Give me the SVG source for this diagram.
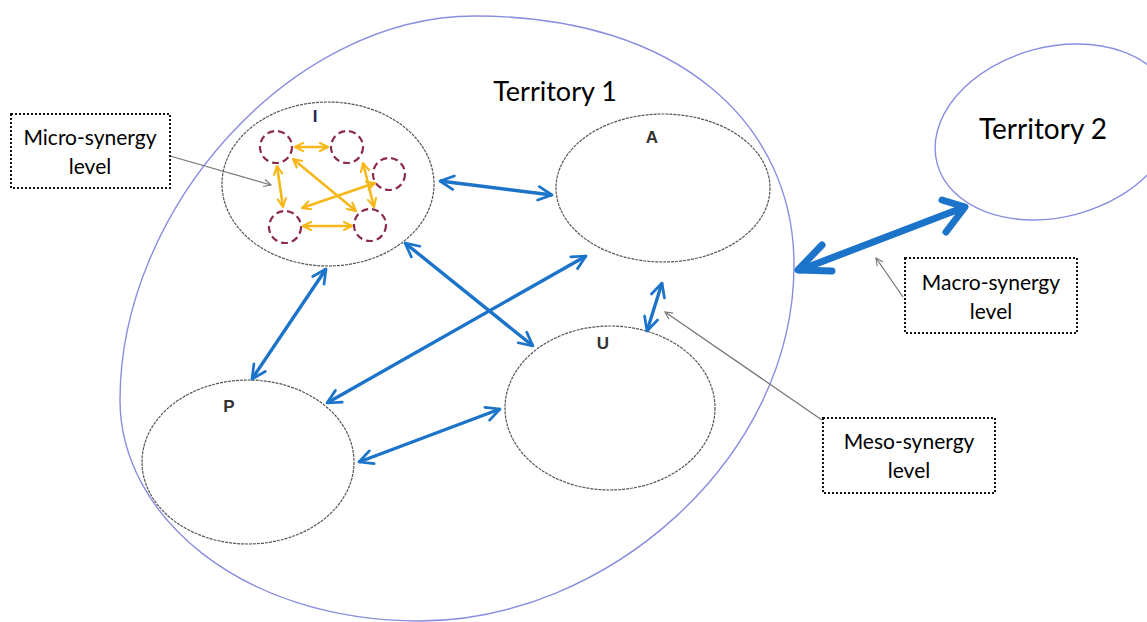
<svg xmlns="http://www.w3.org/2000/svg" width="1147" height="622" viewBox="0 0 1147 622">
<defs>
<style>
.terr{fill:none;stroke:#8a8ee0;stroke-width:1.4}
.node{fill:none;stroke:#555;stroke-width:1.2;stroke-dasharray:3 1}
.small{fill:none;stroke:#8c2a4e;stroke-width:2.2;stroke-dasharray:7 4}
.blue{stroke:#1b74c9;stroke-width:3.4;fill:none;marker-start:url(#bs);marker-end:url(#be)}
.thick{stroke:#1b74c9;stroke-width:7;fill:none;stroke-linecap:round}
.yel{stroke:#f7b719;stroke-width:2.6;fill:none;marker-start:url(#ys);marker-end:url(#ye)}
.ptr{stroke:#777;stroke-width:1.3;fill:none;marker-end:url(#pe)}
.box{fill:#fff;stroke:#111;stroke-width:2;stroke-dasharray:2 2}
.lab{font-family:Lato,"Open Sans",sans-serif;font-size:21px;fill:#000;text-anchor:middle}
.title{font-family:Lato,"Open Sans",sans-serif;font-size:27px;fill:#000;text-anchor:middle}
.nl{font-family:"Liberation Sans",Arial,sans-serif;font-size:17px;font-weight:bold;fill:#333;text-anchor:middle}
</style>
<marker id="be" viewBox="0 0 10 10" refX="9" refY="5" markerWidth="5" markerHeight="5" orient="auto" markerUnits="strokeWidth"><path d="M1,1 L9,5 L1,9" fill="none" stroke="#1b74c9" stroke-width="1.6" stroke-linecap="round" stroke-linejoin="round"/></marker>
<marker id="bs" viewBox="0 0 10 10" refX="1" refY="5" markerWidth="5" markerHeight="5" orient="auto" markerUnits="strokeWidth"><path d="M9,1 L1,5 L9,9" fill="none" stroke="#1b74c9" stroke-width="1.6" stroke-linecap="round" stroke-linejoin="round"/></marker>
<marker id="ye" viewBox="0 0 10 10" refX="9" refY="5" markerWidth="4" markerHeight="4" orient="auto" markerUnits="strokeWidth"><path d="M1,1 L9,5 L1,9" fill="none" stroke="#f7b719" stroke-width="2" stroke-linecap="round" stroke-linejoin="round"/></marker>
<marker id="ys" viewBox="0 0 10 10" refX="1" refY="5" markerWidth="4" markerHeight="4" orient="auto" markerUnits="strokeWidth"><path d="M9,1 L1,5 L9,9" fill="none" stroke="#f7b719" stroke-width="2" stroke-linecap="round" stroke-linejoin="round"/></marker>
<marker id="pe" viewBox="0 0 10 10" refX="9" refY="5" markerWidth="7" markerHeight="7" orient="auto" markerUnits="strokeWidth"><path d="M1,1 L9,5 L1,9" fill="none" stroke="#777" stroke-width="1.2"/></marker>
</defs>
<rect width="1147" height="622" fill="#fff"/>
<g id="territory1"><path class="terr" d="M475,16 C680,16 794,125 794,265 C794,460 605,621 420,621 C240,621 120,515 120,400 C120,210 290,16 475,16 Z"/><text class="title" x="555" y="101">Territory 1</text></g>
<g id="territory2"><ellipse class="terr" cx="1055" cy="132" rx="122" ry="85" transform="rotate(-15 1055 132)"/><text class="title" x="1043" y="139" style="font-size:28px">Territory 2</text></g>
<g id="nodeI"><ellipse class="node" cx="328" cy="184" rx="106" ry="82"/><text class="nl" x="315" y="122" style="fill:#2a2a55">I</text>
<circle class="small" cx="276" cy="147" r="16"/><circle class="small" cx="347" cy="147" r="16"/><circle class="small" cx="389" cy="174" r="16"/><circle class="small" cx="285" cy="227" r="16"/><circle class="small" cx="370" cy="225" r="16"/></g>
<g id="nodeA"><ellipse class="node" cx="663" cy="188" rx="107" ry="74"/><text class="nl" x="652" y="143">A</text></g>
<g id="nodeU"><ellipse class="node" cx="610" cy="408" rx="105" ry="82"/><text class="nl" x="603" y="349">U</text></g>
<g id="nodeP"><ellipse class="node" cx="248" cy="462" rx="106" ry="82"/><text class="nl" x="229" y="412">P</text></g>
<g id="connectors">
<line class="yel" x1="295" y1="147" x2="328" y2="147"/>
<line class="yel" x1="277" y1="166" x2="283" y2="207"/>
<line class="yel" x1="293" y1="159" x2="356" y2="211"/>
<line class="yel" x1="363" y1="163" x2="374" y2="207"/>
<line class="yel" x1="375" y1="183" x2="302" y2="208"/>
<line class="yel" x1="303" y1="226" x2="352" y2="226"/>
<line class="blue" x1="440" y1="181" x2="552" y2="195"/>
<line class="blue" x1="326" y1="269" x2="252" y2="379"/>
<line class="blue" x1="405" y1="243" x2="533" y2="346"/>
<line class="blue" x1="586" y1="256" x2="327" y2="403"/>
<line class="blue" x1="359" y1="462" x2="500" y2="409"/>
<line class="blue" x1="662" y1="283" x2="647" y2="331"/>
<g id="macro"><line class="thick" x1="800" y1="270" x2="962" y2="208"/><path class="thick" d="M822,245 L798,270 L832,271 M942,200 L965,207 L946,232" stroke-linejoin="round"/></g>
<line class="ptr" x1="170" y1="156" x2="271" y2="185"/>
<line class="ptr" x1="822" y1="420" x2="665" y2="312"/>
<line class="ptr" x1="903" y1="297" x2="876" y2="258"/>
</g>
<g id="microLabel"><rect class="box" x="11" y="114" width="159" height="74"/><text class="lab" x="90" y="145">Micro-synergy</text><text class="lab" x="90" y="174">level</text></g>
<g id="macroLabel"><rect class="box" x="905" y="258" width="172" height="75"/><text class="lab" x="991" y="290">Macro-synergy</text><text class="lab" x="991" y="319">level</text></g>
<g id="mesoLabel"><rect class="box" x="823" y="418" width="172" height="75"/><text class="lab" x="909" y="449">Meso-synergy</text><text class="lab" x="909" y="478">level</text></g>
</svg>
